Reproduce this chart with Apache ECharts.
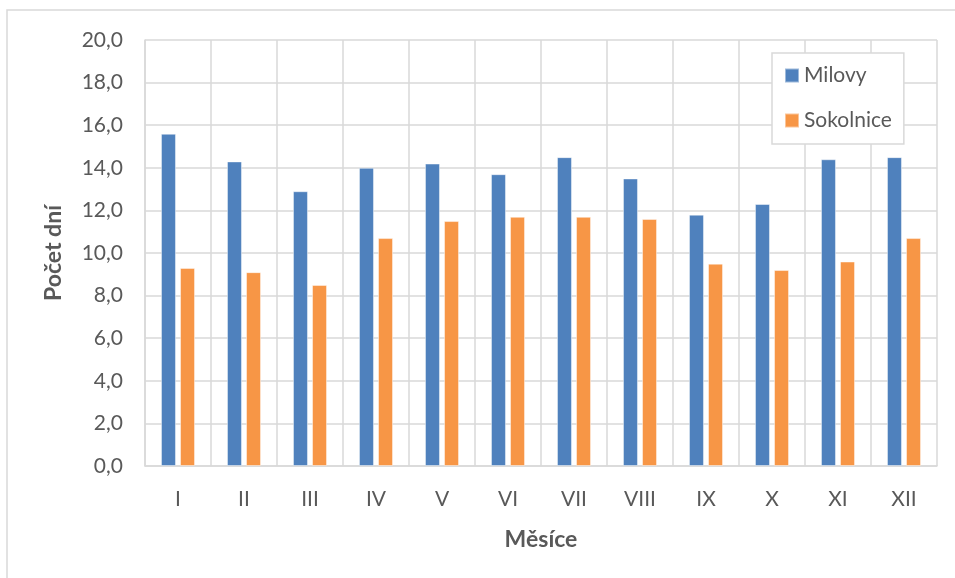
<!DOCTYPE html>
<html>
<head>
<meta charset="utf-8">
<script src="https://cdn.jsdelivr.net/npm/echarts@6/dist/echarts.min.js"></script>
<style>
  html, body { margin: 0; padding: 0; background: #ffffff; }
  #chart { width: 955px; height: 578px; }
</style>
</head>
<body>
<div id="chart"></div>
<script>
// Months (Roman numerals) and average number of days per month for each station
const months = ['I', 'II', 'III', 'IV', 'V', 'VI', 'VII', 'VIII', 'IX', 'X', 'XI', 'XII'];
const milovy = [15.6, 14.3, 12.9, 14.0, 14.2, 13.7, 14.5, 13.5, 11.8, 12.3, 14.4, 14.5];
const sokolnice = [9.3, 9.1, 8.5, 10.7, 11.5, 11.7, 11.7, 11.6, 9.5, 9.2, 9.6, 10.7];

const FONT = 'Lato, "Open Sans", sans-serif';
const TEXT = '#595959';
const GRID = '#d9d9d9';
const FS = 21;

const chart = echarts.init(document.getElementById('chart'), null, { renderer: 'canvas' });

chart.setOption({
  animation: false,
  backgroundColor: '#ffffff',
  textStyle: { fontFamily: FONT, color: TEXT },
  graphic: [{
    type: 'rect',
    shape: { x: 7, y: 10, width: 1000, height: 1000 },
    style: { fill: 'none', stroke: GRID, lineWidth: 1.5 },
    silent: true
  }],
  grid: { left: 145, right: 18, top: 40, bottom: 112 },
  legend: {
    orient: 'vertical',
    left: 772,
    top: 53,
    padding: [12, 12, 13, 12],
    itemGap: 24,
    itemWidth: 14,
    itemHeight: 14,
    itemTextGap: 5,
    borderColor: GRID,
    borderWidth: 1.5,
    backgroundColor: '#ffffff',
    icon: 'rect',
    textStyle: { fontFamily: FONT, fontSize: FS, color: TEXT, lineHeight: 20 },
    data: ['Milovy', 'Sokolnice']
  },
  xAxis: {
    type: 'category',
    data: months,
    name: 'Měsíce',
    nameLocation: 'middle',
    nameGap: 62,
    nameTextStyle: { fontFamily: FONT, fontSize: 23, fontWeight: 'bold', color: TEXT },
    axisLine: { show: true, lineStyle: { color: GRID, width: 1.5 } },
    axisTick: { show: false },
    splitLine: { show: true, lineStyle: { color: GRID, width: 1.5 } },
    axisLabel: { fontFamily: FONT, fontSize: FS, color: TEXT, margin: 23 }
  },
  yAxis: {
    type: 'value',
    min: 0,
    max: 20,
    interval: 2,
    name: 'Počet dní',
    nameLocation: 'middle',
    nameGap: 80,
    nameTextStyle: { fontFamily: FONT, fontSize: 23, fontWeight: 'bold', color: TEXT },
    axisLine: { show: true, lineStyle: { color: GRID, width: 1.5 } },
    axisTick: { show: false },
    splitLine: { show: true, lineStyle: { color: GRID, width: 1.5 } },
    axisLabel: {
      fontFamily: FONT, fontSize: FS, color: TEXT, margin: 22,
      formatter: v => v.toFixed(1).replace('.', ',')
    }
  },
  series: [
    {
      name: 'Milovy',
      type: 'bar',
      data: milovy,
      barWidth: 15,
      barGap: '27%',
      itemStyle: { color: '#4f81bd', borderColor: 'rgba(255,255,255,0.45)', borderWidth: 1 }
    },
    {
      name: 'Sokolnice',
      type: 'bar',
      data: sokolnice,
      barWidth: 15,
      itemStyle: { color: '#f79646', borderColor: 'rgba(255,255,255,0.45)', borderWidth: 1 }
    }
  ]
});
</script>
</body>
</html>
